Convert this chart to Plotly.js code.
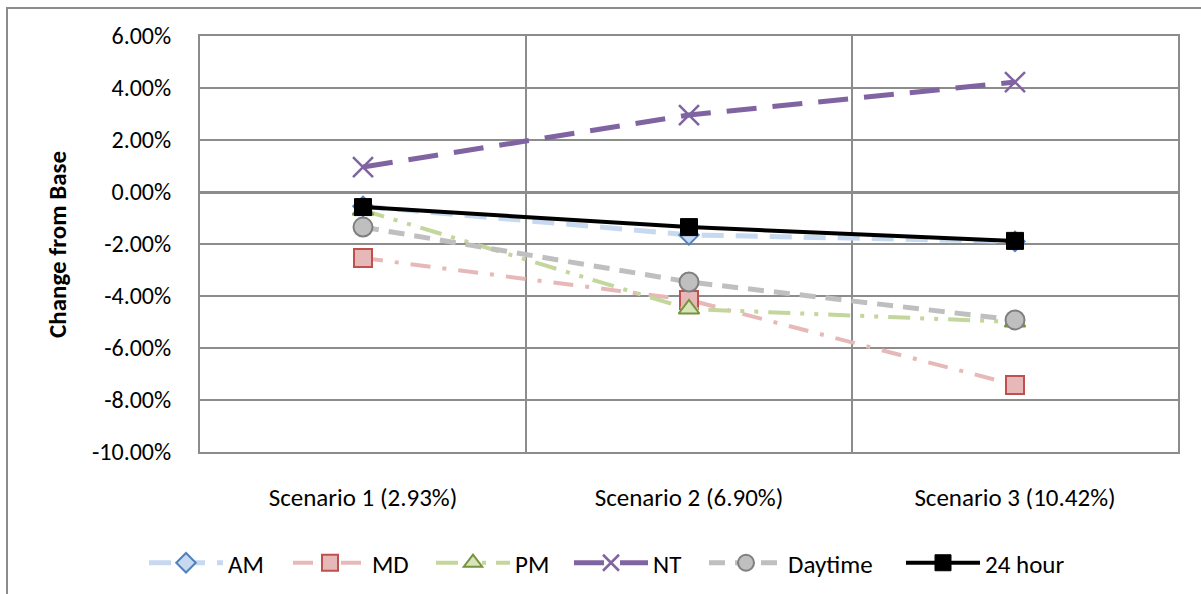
<!DOCTYPE html>
<html>
<head>
<meta charset="utf-8">
<script src="https://cdn.plot.ly/plotly-3.0.1.min.js"></script>
<style>
  html, body { margin: 0; padding: 0; background: #fff; }
  #wrap { position: relative; width: 1201px; height: 594px; overflow: hidden; }
  #frame { position: absolute; left: 6px; top: 7px; width: 1300px; height: 700px;
           border-left: 2px solid #8c8c8c; border-top: 2px solid #8c8c8c; }
  #chart { position: absolute; left: 0; top: 0; width: 1201px; height: 594px; }
</style>
</head>
<body>
<div id="wrap">
  <div id="frame"></div>
  <div id="chart"></div>
</div>
<script>
const categories = ["Scenario 1 (2.93%)", "Scenario 2 (6.90%)", "Scenario 3 (10.42%)"];
const AM      = [-0.0055, -0.0165, -0.0190];
const MD      = [-0.0254, -0.0415, -0.0742];
const PM      = [-0.0070, -0.0450, -0.0500];
const NT      = [ 0.0096,  0.0296,  0.0423];
const Daytime = [-0.0135, -0.0346, -0.0492];
const Hour24  = [-0.0058, -0.0135, -0.0188];
const yTicks  = [0.06, 0.04, 0.02, 0, -0.02, -0.04, -0.06, -0.08, -0.10];
const yTickText = yTicks.map(v => (v * 100).toFixed(2) + "%");

const FONT = "Carlito, Lato, 'Liberation Sans', sans-serif";

// left pixel position of each legend entry
const legendPx = [153, 297, 440, 578, 713, 910];
const W = 1201, H = 594;

function tr(i, name, y, lineColor, dash, width, symbol, size, fill, outline, olw) {
  return {
    type: "scatter", mode: "lines+markers", name: name,
    legend: i === 0 ? "legend" : "legend" + (i + 1),
    x: categories, y: y,
    line: { color: lineColor, dash: dash, width: width },
    marker: { symbol: symbol, size: size, color: fill, line: { color: outline, width: olw } }
  };
}

const data = [
  tr(0, "AM", AM, "#c6d9f1", "22px,12px", 5, "diamond", 15, "#c6d9f1", "#4f81bd", 2),
  tr(1, "MD", MD, "#e6b9b8", "20px,12px,4px,12px", 4, "square", 18, "#e6b9b8", "#c0504d", 2),
  tr(2, "PM", PM, "#c3d69b", "22px,10px,4px,10px,4px,10px", 4, "triangle-up", 18, "#d7e4bd", "#77933c", 2),
  tr(3, "NT", NT, "#8064a2", "30px,16px", 5, "x-thin-open", 20, "#8064a2", "#8064a2", 2.5),
  tr(4, "Daytime", Daytime, "#bfbfbf", "16px,10px", 5, "circle", 19, "#bfbfbf", "#7f7f7f", 2),
  tr(5, "24 hour", Hour24, "#000000", "solid", 4, "square", 17, "#000000", "#000000", 1)
];

const layout = {
  width: W, height: H,
  paper_bgcolor: "rgba(0,0,0,0)", plot_bgcolor: "#ffffff",
  margin: { l: 200, r: 23, t: 36, b: 142, autoexpand: false },
  font: { family: FONT, size: 22, color: "#000" },
  showlegend: true,
  xaxis: {
    type: "category", range: [-0.5, 2.5], tickson: "boundaries", automargin: false,
    showgrid: true, gridcolor: "#8c8c8c", gridwidth: 1.5,
    showline: true, linecolor: "#8c8c8c", linewidth: 2, mirror: true,
    ticks: "", ticklabelstandoff: 22,
    tickfont: { family: FONT, size: 25, color: "#000" },
    zeroline: false, fixedrange: true
  },
  yaxis: {
    range: [-0.10, 0.06], tickvals: yTicks, ticktext: yTickText, automargin: false,
    showgrid: true, gridcolor: "#8c8c8c", gridwidth: 1.5,
    showline: true, linecolor: "#8c8c8c", linewidth: 2, mirror: true,
    zeroline: true, zerolinecolor: "#8c8c8c", zerolinewidth: 3,
    ticks: "", ticklabelstandoff: 22,
    tickfont: { family: FONT, size: 24, color: "#000" },
    fixedrange: true
  },
  annotations: [{
    text: "<b>Change from Base</b>", xref: "paper", yref: "paper",
    x: (57 - 200) / 978, y: (452 - 245) / 416, textangle: -90,
    showarrow: false, xanchor: "center", yanchor: "middle",
    font: { family: FONT, size: 25, color: "#000" }
  }]
};

legendPx.forEach((px, i) => {
  const key = i === 0 ? "legend" : "legend" + (i + 1);
  layout[key] = {
    orientation: "h", xref: "container", yref: "container",
    x: (px - 9) / W, xanchor: "left",
    y: 1 - 540 / H, yanchor: "top", bgcolor: "rgba(0,0,0,0)",
    font: { family: FONT, size: 25, color: "#000" },
    itemwidth: 74
  };
});

Plotly.newPlot("chart", data, layout, { displayModeBar: false, staticPlot: true });
</script>
</body>
</html>
